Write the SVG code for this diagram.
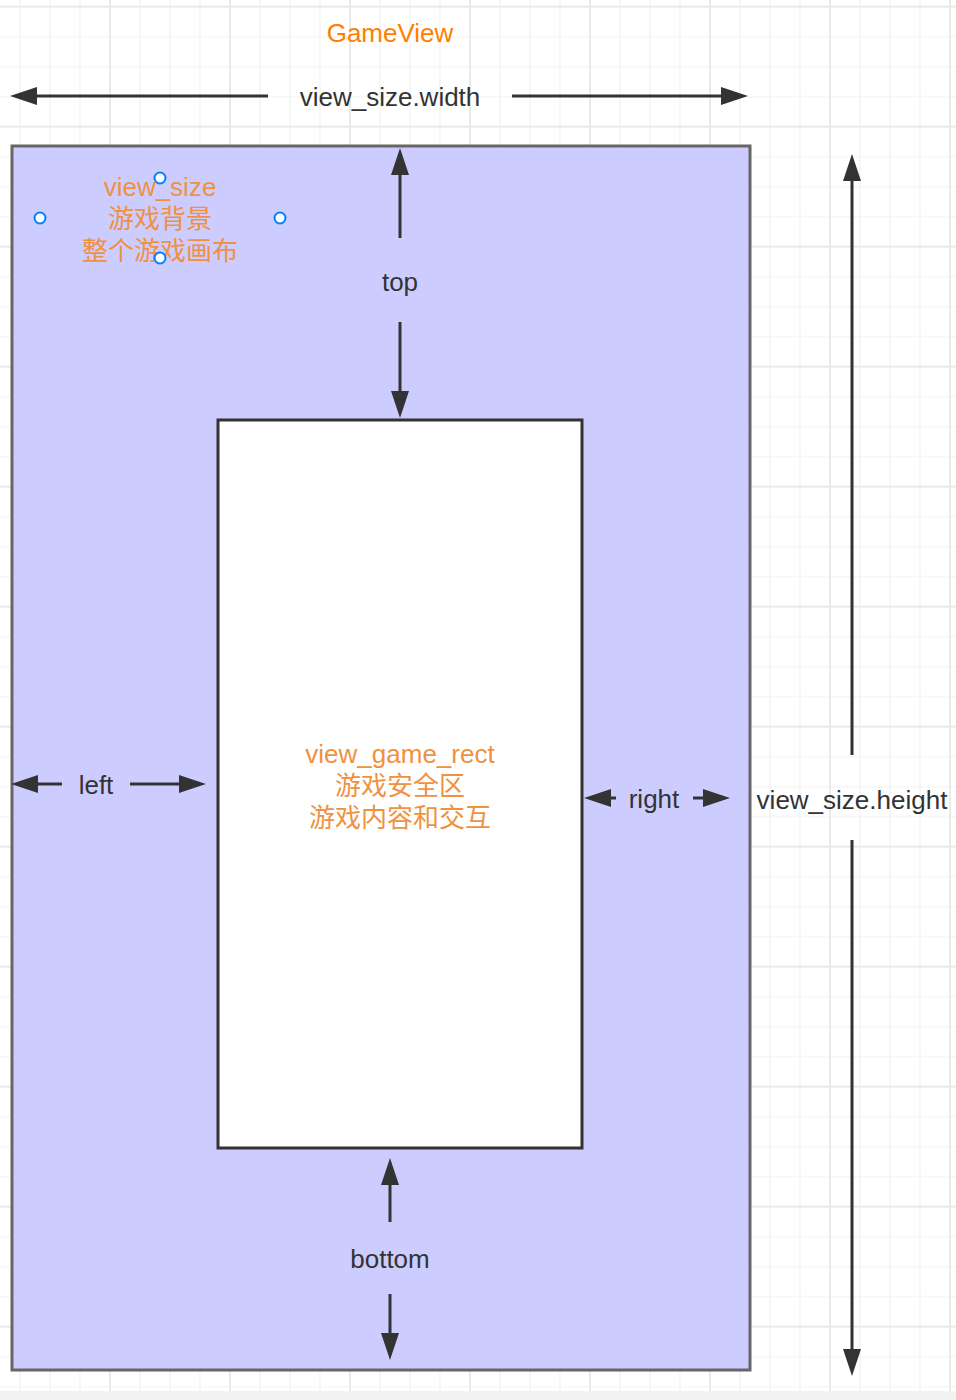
<svg xmlns="http://www.w3.org/2000/svg" width="956" height="1400" viewBox="0 0 956 1400">
<style>
.t{font-family:"Liberation Sans",Arial,"Noto Sans CJK SC",sans-serif;font-size:26px;text-anchor:middle;fill:#333333}
.o{fill:#f0913f}
.g{fill:#ff8000}
.c{stroke:#333333;stroke-width:3;fill:none}
.pt{fill:#ffffff;stroke:#007fff;stroke-width:2}
</style>
<defs>
<pattern id="grid" patternUnits="userSpaceOnUse" x="-10" y="6.67" width="120" height="120">
<path d="M30 0V120M60 0V120M90 0V120M0 30H120M0 60H120M0 90H120" stroke="#f1f1f1" stroke-width="1.2" fill="none"/>
<rect x="0" y="0" width="1" height="120" fill="#eaeaea"/>
<rect x="119" y="0" width="1" height="120" fill="#eaeaea"/>
<rect x="0" y="0" width="120" height="1" fill="#eaeaea"/>
<rect x="0" y="119" width="120" height="1" fill="#eaeaea"/>
</pattern>
<marker id="ah" viewBox="0 -9 27 18" refX="0" refY="0" markerWidth="27" markerHeight="18" markerUnits="userSpaceOnUse" orient="auto">
<path d="M0,-9L27,0L0,9Z" fill="#333333"/>
</marker>
</defs>
<rect x="0" y="0" width="956" height="1400" fill="#ffffff"/>
<rect x="0" y="0" width="956" height="1400" fill="url(#grid)"/>
<rect x="0" y="1391" width="956" height="9" fill="#f2f2f2"/>

<g id="game-view">
<rect x="12" y="146" width="738" height="1224" fill="#ccccff" stroke="#666666" stroke-width="3"/>
</g>
<g id="game-rect">
<rect x="218" y="420" width="364" height="728" fill="#ffffff" stroke="#333333" stroke-width="3"/>
</g>

<g id="connectors">
<line class="c" x1="268" y1="96" x2="37" y2="96" marker-end="url(#ah)"/>
<line class="c" x1="512" y1="96" x2="721" y2="96" marker-end="url(#ah)"/>
<line class="c" x1="400" y1="238" x2="400" y2="175" marker-end="url(#ah)"/>
<line class="c" x1="400" y1="322" x2="400" y2="391" marker-end="url(#ah)"/>
<line class="c" x1="62" y1="784" x2="38" y2="784" marker-end="url(#ah)"/>
<line class="c" x1="130" y1="784" x2="179" y2="784" marker-end="url(#ah)"/>
<line class="c" x1="616" y1="798" x2="611" y2="798" marker-end="url(#ah)"/>
<line class="c" x1="693" y1="798" x2="703" y2="798" marker-end="url(#ah)"/>
<line class="c" x1="852" y1="755" x2="852" y2="181" marker-end="url(#ah)"/>
<line class="c" x1="852" y1="840" x2="852" y2="1349" marker-end="url(#ah)"/>
<line class="c" x1="390" y1="1222" x2="390" y2="1185" marker-end="url(#ah)"/>
<line class="c" x1="390" y1="1294" x2="390" y2="1333" marker-end="url(#ah)"/>
</g>

<g id="label-gameview"><text class="t g" x="390" y="42">GameView</text></g>
<g id="label-width"><text class="t" x="390" y="106">view_size.width</text></g>
<g id="label-view-size">
<text class="t o" x="160" y="196">view_size</text>
<text class="t o" x="160" y="228">游戏背景</text>
<text class="t o" x="160" y="260">整个游戏画布</text>
<circle class="pt" cx="160" cy="178" r="5.5"/>
<circle class="pt" cx="40" cy="218" r="5.5"/>
<circle class="pt" cx="280" cy="218" r="5.5"/>
<circle class="pt" cx="160" cy="258" r="5.5"/>
</g>
<g id="label-top"><text class="t" x="400" y="291">top</text></g>
<g id="label-left"><text class="t" x="96" y="794">left</text></g>
<g id="label-right"><text class="t" x="654" y="808">right</text></g>
<g id="label-height"><text class="t" x="852" y="809">view_size.height</text></g>
<g id="label-game-rect">
<text class="t o" x="400" y="763">view_game_rect</text>
<text class="t o" x="400" y="795">游戏安全区</text>
<text class="t o" x="400" y="827">游戏内容和交互</text>
</g>
<g id="label-bottom"><text class="t" x="390" y="1268">bottom</text></g>
</svg>
